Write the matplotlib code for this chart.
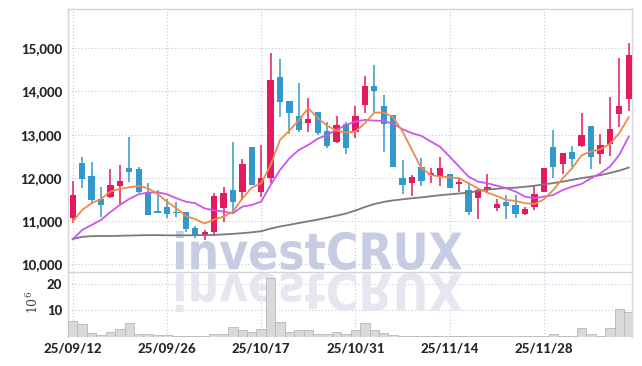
import matplotlib
matplotlib.use("Agg")
import matplotlib.pyplot as plt
from matplotlib.textpath import TextPath
from matplotlib.font_manager import FontProperties
from matplotlib.patches import PathPatch
from matplotlib.transforms import Affine2D, IdentityTransform

# daily OHLC (KRW), 60 trading days
opens = [11060, 12343, 12042, 11508, 11561, 11816, 12227, 12204, 11663, 11230,
         11322, 11206, 11199, 10835, 10666, 10735, 11292, 11717, 11678, 12707,
         11678, 11988, 14331, 13782, 13434, 13278, 13526, 13086, 12837, 13241,
         13070, 13677, 14115, 13666, 13457, 12002, 11888, 12250, 12073, 12034,
         12088, 11850, 11717, 11538, 11717, 11306, 11438, 11369, 11153, 11315,
         11663, 12714, 12318, 12591, 12738, 13201, 12552, 12784, 13473, 13821]
highs = [11926, 12489, 12366, 11793, 12197, 12297, 12939, 12250, 11872, 11717,
         11500, 11446, 11210, 10880, 10789, 11640, 11793, 12823, 12436, 12707,
         12761, 14902, 14748, 13782, 14192, 13837, 13526, 13301, 13434, 13287,
         13666, 14362, 14617, 13921, 13457, 12413, 12065, 12451, 12220, 12489,
         12088, 12025, 11910, 11756, 12088, 11500, 11600, 11600, 11330, 11817,
         12234, 13109, 12569, 12730, 13496, 13201, 13009, 13868, 14786, 15134]
lows = [10950, 11756, 11422, 11097, 11540, 11369, 11910, 11650, 11137, 11176,
        11060, 11097, 10735, 10610, 10557, 10650, 10981, 11176, 11485, 11833,
        11561, 11872, 13403, 13009, 13070, 13055, 12995, 12684, 12800, 12545,
        12916, 13496, 13518, 12591, 12257, 11617, 11578, 11817, 11886, 11810,
        11770, 11678, 11137, 11037, 11640, 11237, 11037, 11060, 11130, 11253,
        11663, 12002, 12081, 12257, 12707, 12212, 12320, 12506, 13186, 13550]
closes = [11600, 11972, 11485, 11376, 11833, 11926, 12134, 11670, 11137, 11183,
          11167, 11176, 10805, 10657, 10735, 11578, 11640, 11445, 12320, 11833,
          12002, 14269, 13766, 13510, 13109, 13364, 13046, 12738, 13225, 12699,
          13434, 14115, 14000, 13241, 12257, 11840, 12027, 11918, 12104, 12220,
          11770, 11910, 11213, 11717, 11779, 11392, 11353, 11153, 11276, 11624,
          12234, 12257, 12569, 12443, 12993, 12489, 12761, 13134, 13666, 14849]

# moving averages as drawn on the chart
ma5 = [10981, 11253, 11408, 11508, 11678, 11740, 11779, 11810, 11756, 11624,
       11445, 11292, 11114, 11040, 10940, 11030, 11098, 11214, 11520, 11770,
       11872, 12297, 12877, 13093, 13341, 13612, 13380, 13202, 13093, 13047,
       13070, 13264, 13511, 13511, 13403, 13070, 12645, 12220, 12065, 12026,
       12011, 11988, 11872, 11756, 11654, 11578, 11485, 11462, 11408, 11392,
       11500, 11717, 11988, 12220, 12522, 12606, 12661, 12784, 13032, 13403]
ma20 = [10573, 10789, 10905, 11021, 11206, 11369, 11508, 11617, 11654, 11663,
        11617, 11524, 11445, 11410, 11288, 11245, 11214, 11176, 11330, 11369,
        11445, 11833, 12181, 12452, 12645, 12761, 12905, 12993, 13109, 13225,
        13301, 13341, 13325, 13318, 13248, 13125, 13032, 12970, 12840, 12715,
        12489, 12257, 12026, 11910, 11872, 11817, 11756, 11678, 11561, 11524,
        11561, 11600, 11717, 11793, 11856, 11988, 12104, 12257, 12529, 12954]
ma60 = [10580, 10630, 10645, 10650, 10650, 10655, 10660, 10665, 10670, 10670,
        10665, 10665, 10665, 10668, 10670, 10675, 10685, 10700, 10715, 10735,
        10760, 10820, 10870, 10910, 10950, 10990, 11030, 11075, 11120, 11170,
        11240, 11320, 11390, 11440, 11475, 11500, 11525, 11545, 11570, 11595,
        11615, 11635, 11655, 11690, 11725, 11745, 11760, 11770, 11790, 11815,
        11845, 11875, 11910, 11950, 11990, 12025, 12060, 12110, 12165, 12235]

# volume, millions of shares
volume = [6.0, 4.7, 1.2, 0.7, 1.6, 2.8, 5.1, 0.85, 0.85, 0.45,
          0.45, 0.1, 0.1, 0.1, 0.1, 0.9, 0.9, 3.8, 2.4, 1.6,
          2.8, 22.4, 5.7, 1.6, 2.4, 2.4, 0.85, 0.9, 1.6, 0.9,
          2.5, 5.1, 2.4, 1.2, 0.6, 0.2, 0.15, 0.1, 0.1, 0.1,
          0.1, 0.15, 0.2, 0.2, 0.2, 0.2, 0.1, 0.05, 0.05, 0.1,
          0.3, 0.85, 0.3, 0.2, 3.2, 0.85, 0.3, 3.2, 10.5, 9.3]

tick_idx = [0, 10, 20, 30, 40, 50]
tick_labels = ["25/09/12", "25/09/26", "25/10/17", "25/10/31", "25/11/14", "25/11/28"]
price_ticks = [10000, 11000, 12000, 13000, 14000, 15000]
vol_ticks = [10, 20]

UP, DOWN = "#e31a5f", "#3399cc"
GRID = "#c3c7db"
FRAME = "#d4d4dc"
lab_font = dict(family=["Lato", "DejaVu Sans"], weight=900, size=9.5, color="#262626")

W, H = 642, 366
fig = plt.figure(figsize=(W / 100, H / 100), dpi=100)
x_l, x_r = 68.3, 632.3
ax = fig.add_axes([x_l / W, 1 - 272 / H, (x_r - x_l) / W, (272 - 9.3) / H])
axv = fig.add_axes([x_l / W, 1 - 336.5 / H, (x_r - x_l) / W, (336.5 - 272) / H], sharex=ax)

n = len(closes)
xs = list(range(n))
cols = [UP if c >= o else DOWN for o, c in zip(opens, closes)]
bottoms = [min(o, c) for o, c in zip(opens, closes)]
heights = [max(abs(c - o), 30) for o, c in zip(opens, closes)]

ax.vlines(xs, lows, highs, colors=cols, lw=1.1, zorder=3)
ax.bar(xs, heights, bottom=bottoms, width=0.67, color=cols, zorder=4)
ax.plot(xs, ma60, color="#7a7a7a", lw=1.3, zorder=5)
ax.plot(xs, ma20, color="#cc55ee", lw=1.3, zorder=5)
ax.plot(xs, ma5, color="#f08a4b", lw=1.3, zorder=5)

axv.bar(xs, volume, width=1.0, color="#d9d9d9", edgecolor="#b8b8b8", lw=0.6, zorder=3)

ax.set_xlim(-0.47, n - 1 + 0.38)
ax.set_ylim(9815, 15904)
axv.set_ylim(0, 24.8)

for a in (ax, axv):
    a.set_xticks(tick_idx)
    a.grid(True, color=GRID, ls=(0, (1, 2)), lw=0.8, zorder=1)
    a.tick_params(length=0)
    for s in a.spines.values():
        s.set_color(FRAME)
        s.set_linewidth(1.0)
ax.set_yticks(price_ticks)
ax.set_yticklabels([f"{v:,}" for v in price_ticks], **lab_font)
ax.tick_params(axis="y", pad=4.5)
ax.tick_params(axis="x", labelbottom=False)
ax.spines["bottom"].set_visible(False)
axv.set_yticks(vol_ticks)
axv.set_yticklabels([str(v) for v in vol_ticks], **lab_font)
axv.tick_params(axis="y", pad=4.5)
axv.set_xticklabels(tick_labels, **lab_font)
axv.tick_params(axis="x", pad=4)
axv.spines["bottom"].set_visible(False)

fig.text(33 / W, 1 - 302 / H, r"$10^{6}$", rotation=90, ha="center", va="center",
         fontsize=9, color="#444444", math_fontfamily="dejavuserif")

# watermark and its reflection
tp = TextPath((0, 0), "investCRUX", size=50, prop=FontProperties(family="DejaVu Sans", weight="bold"))
ext = tp.get_extents()
sx = (462 - 176) / ext.width
tr = Affine2D().translate(-ext.x0, -ext.y0).scale(sx, (270 - 231) / ext.height).translate(176, H - 270)
ax.add_patch(PathPatch(tr.transform_path(tp), transform=IdentityTransform(), fc="#c6cce2",
                       ec="none", zorder=2, clip_on=False))
tr2 = Affine2D().translate(-ext.x0, -ext.y0).scale(sx, -(312 - 273) / ext.height).translate(176, H - 273)
axv.add_patch(PathPatch(tr2.transform_path(tp), transform=IdentityTransform(), fc="#e6e6ef",
                        ec="none", zorder=2, clip_on=False))

fig.savefig("out.png", dpi=100)
